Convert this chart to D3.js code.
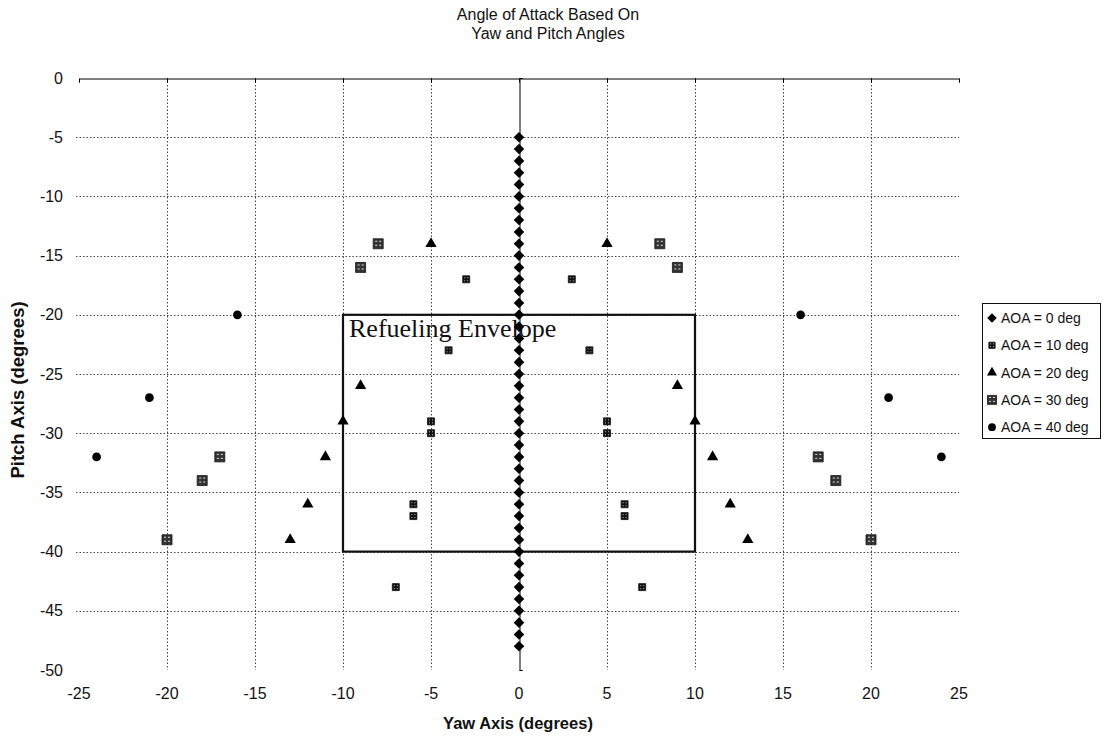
<!DOCTYPE html>
<html>
<head>
<meta charset="utf-8">
<script src="https://cdn.jsdelivr.net/npm/d3@7"></script>
<style>
  body { margin: 0; background: #fff; }
  svg { display: block; }
</style>
</head>
<body>
<svg id="chart" width="1116" height="737"></svg>
<script>
// ---- data ----
const xTicks = [-25, -20, -15, -10, -5, 0, 5, 10, 15, 20, 25];
const yTicks = [0, -5, -10, -15, -20, -25, -30, -35, -40, -45, -50];
const seriesNames = ["AOA = 0 deg", "AOA = 10 deg", "AOA = 20 deg", "AOA = 30 deg", "AOA = 40 deg"];

const aoa0Yaw = [0,0,0,0,0,0,0,0,0,0,0,0,0,0,0,0,0,0,0,0,0,0,0,0,0,0,0,0,0,0,0,0,0,0,0,0,0,0,0,0,0,0,0,0];
const aoa0Pitch = [-5,-6,-7,-8,-9,-10,-11,-12,-13,-14,-15,-16,-17,-18,-19,-20,-21,-22,-23,-24,-25,-26,-27,-28,-29,-30,-31,-32,-33,-34,-35,-36,-37,-38,-39,-40,-41,-42,-43,-44,-45,-46,-47,-48];

const aoa10Yaw   = [-3, 3, -4, 4, -5, -5, 5, 5, -6, -6, 6, 6, -7, 7];
const aoa10Pitch = [-17, -17, -23, -23, -29, -30, -29, -30, -36, -37, -36, -37, -43, -43];

const aoa20Yaw   = [-5, 5, -9, 9, -10, 10, -11, 11, -12, 12, -13, 13];
const aoa20Pitch = [-14, -14, -26, -26, -29, -29, -32, -32, -36, -36, -39, -39];

const aoa30Yaw   = [-8, 8, -9, 9, -17, 17, -18, 18, -20, 20];
const aoa30Pitch = [-14, -14, -16, -16, -32, -32, -34, -34, -39, -39];

const aoa40Yaw   = [-24, 24, -21, 21, -16, 16];
const aoa40Pitch = [-32, -32, -27, -27, -20, -20];

const envelopeYaw = [-10, 10];
const envelopePitch = [-20, -40];
const envelopeLabel = "Refueling Envelope";

// ---- layout ----
const svg = d3.select("#chart");
const x = d3.scaleLinear().domain([-25, 25]).range([79, 959]);
const y = d3.scaleLinear().domain([0, -50]).range([78, 670]);

// defs: patterns for hatched squares
const defs = svg.append("defs");
const p10 = defs.append("pattern").attr("id", "pat10").attr("patternUnits", "userSpaceOnUse")
  .attr("width", 3).attr("height", 3);
p10.append("rect").attr("width", 3).attr("height", 3).attr("fill", "#111");
p10.append("rect").attr("x", 1).attr("y", 1).attr("width", 1).attr("height", 1).attr("fill", "#bbb");
const p30 = defs.append("pattern").attr("id", "pat30").attr("patternUnits", "userSpaceOnUse")
  .attr("width", 4).attr("height", 4);
p30.append("rect").attr("width", 4).attr("height", 4).attr("fill", "#333");
p30.append("rect").attr("x", 1).attr("y", 1).attr("width", 2).attr("height", 1).attr("fill", "#ddd");

// title
const title = svg.append("text").attr("x", 548).attr("text-anchor", "middle")
  .attr("font-family", "Liberation Sans, Arial, sans-serif").attr("font-size", 16).attr("fill", "#111");
title.append("tspan").attr("x", 548).attr("y", 20).text("Angle of Attack Based On");
title.append("tspan").attr("x", 548).attr("y", 39).text("Yaw and Pitch Angles");

// gridlines
const grid = svg.append("g").attr("stroke", "#444").attr("stroke-width", 1).attr("stroke-dasharray", "1.5,2");
grid.selectAll("line.v").data(xTicks.filter(d => d !== 0 && Math.abs(d) !== 25)).join("line")
  .attr("x1", d => Math.round(x(d)) + 0.5).attr("x2", d => Math.round(x(d)) + 0.5)
  .attr("y1", y(0)).attr("y2", y(-50));
grid.selectAll("line.h").data(yTicks.filter(d => d !== 0 && d !== -50)).join("line")
  .attr("y1", d => Math.round(y(d)) + 0.5).attr("y2", d => Math.round(y(d)) + 0.5)
  .attr("x1", x(-25) - 3).attr("x2", x(25));

// x axis at top (pitch = 0), ticks inward
const xAxisG = svg.append("g").attr("transform", `translate(0,${Math.round(y(0)) + 0.5})`)
  .call(d3.axisBottom(x).tickValues(xTicks).tickSize(4).tickFormat(""));
xAxisG.select(".domain").attr("stroke", "#000");
xAxisG.selectAll(".tick line").attr("stroke", "#000");

// y axis at yaw = 0
const yAxisG = svg.append("g").attr("transform", `translate(${Math.round(x(0)) + 0.5},0)`)
  .call(d3.axisRight(y).tickValues(yTicks).tickSize(3).tickFormat(""));
yAxisG.select(".domain").attr("stroke", "#000");
yAxisG.selectAll(".tick line").attr("stroke", "#000");

// tick labels (low position)
svg.append("g").selectAll("text").data(xTicks).join("text")
  .attr("x", d => x(d)).attr("y", 699).attr("text-anchor", "middle")
  .attr("font-family", "Liberation Sans, Arial, sans-serif").attr("font-size", 16).attr("fill", "#111")
  .text(d => d);
svg.append("g").selectAll("text").data(yTicks).join("text")
  .attr("x", 63).attr("y", d => y(d) + 5.5).attr("text-anchor", "end")
  .attr("font-family", "Liberation Sans, Arial, sans-serif").attr("font-size", 16).attr("fill", "#111")
  .text(d => d);

// axis titles
svg.append("text").attr("x", 518).attr("y", 729).attr("text-anchor", "middle")
  .attr("font-family", "Liberation Sans, Arial, sans-serif").attr("font-size", 16.5).attr("font-weight", "bold")
  .attr("fill", "#111").text("Yaw Axis (degrees)");
svg.append("text").attr("transform", "translate(24,390) rotate(-90)").attr("text-anchor", "middle")
  .attr("font-family", "Liberation Sans, Arial, sans-serif").attr("font-size", 18.5).attr("font-weight", "bold")
  .attr("fill", "#111").text("Pitch Axis (degrees)");

// refueling envelope
svg.append("rect")
  .attr("x", x(envelopeYaw[0])).attr("y", y(envelopePitch[0]))
  .attr("width", x(envelopeYaw[1]) - x(envelopeYaw[0]))
  .attr("height", y(envelopePitch[1]) - y(envelopePitch[0]))
  .attr("fill", "none").attr("stroke", "#111").attr("stroke-width", 2.2);
svg.append("text").attr("x", x(envelopeYaw[0]) + 6).attr("y", y(envelopePitch[0]) + 22)
  .attr("font-family", "Liberation Serif, Times New Roman, serif").attr("font-size", 26).attr("fill", "#111")
  .text(envelopeLabel);

// marker shapes
const diamondSym = { draw(ctx, size) { const r = Math.sqrt(size / 2); ctx.moveTo(0, -r); ctx.lineTo(r, 0); ctx.lineTo(0, r); ctx.lineTo(-r, 0); ctx.closePath(); } };
const series = [
  { name: seriesNames[0], xs: aoa0Yaw, ys: aoa0Pitch, sym: diamondSym, size: 56, fill: "#000" },
  { name: seriesNames[1], xs: aoa10Yaw, ys: aoa10Pitch, sym: d3.symbolSquare, size: 49, fill: "url(#pat10)" },
  { name: seriesNames[2], xs: aoa20Yaw, ys: aoa20Pitch, sym: d3.symbolTriangle, size: 55, fill: "#000" },
  { name: seriesNames[3], xs: aoa30Yaw, ys: aoa30Pitch, sym: d3.symbolSquare, size: 100, fill: "url(#pat30)" },
  { name: seriesNames[4], xs: aoa40Yaw, ys: aoa40Pitch, sym: d3.symbolCircle, size: 60, fill: "#000" }
];

series.forEach(s => {
  const pts = s.xs.map((v, i) => [v, s.ys[i]]);
  svg.append("g").selectAll("path").data(pts).join("path")
    .attr("transform", d => `translate(${x(d[0])},${y(d[1])})`)
    .attr("d", d3.symbol().type(s.sym).size(s.size))
    .attr("fill", s.fill).attr("stroke", s.fill.startsWith("url") ? "#111" : "none").attr("stroke-width", 0.8);
});

// legend
const lg = svg.append("g");
lg.append("rect").attr("x", 982.5).attr("y", 303.5).attr("width", 118).attr("height", 135)
  .attr("fill", "#fff").attr("stroke", "#111").attr("stroke-width", 1);
series.forEach((s, i) => {
  const cy = 318 + i * 27.3;
  lg.append("path").attr("transform", `translate(992,${cy})`)
    .attr("d", d3.symbol().type(s.sym).size(s.size * 0.8))
    .attr("fill", s.fill).attr("stroke", s.fill.startsWith("url") ? "#111" : "none").attr("stroke-width", 0.8);
  lg.append("text").attr("x", 1001).attr("y", cy + 5).attr("font-family", "Liberation Sans, Arial, sans-serif")
    .attr("font-size", 14).attr("fill", "#111").text(s.name);
});
</script>
</body>
</html>
